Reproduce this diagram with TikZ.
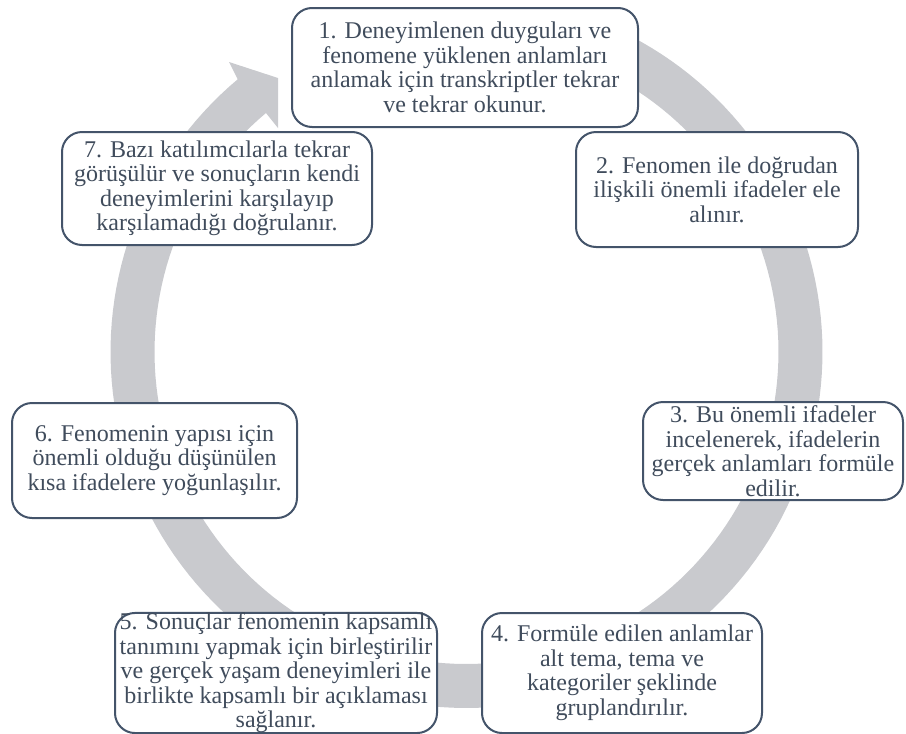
\documentclass[tikz,border=0pt]{standalone}
\usepackage{fontspec}
\setmainfont{Liberation Serif}
\definecolor{ringgray}{RGB}{201,202,206}
\definecolor{boxline}{RGB}{68,84,106}
\definecolor{boxtext}{RGB}{64,76,92}
\begin{document}
\begin{tikzpicture}[x=1pt,y=-1pt,
  stagebox/.style={draw=boxline, line width=2pt, fill=white, rounded corners=20pt,
    align=center, inner sep=0pt, text=boxtext,
    font=\fontsize{24}{24.5}\selectfont},
  ring/.style={fill=ringgray}]
\useasboundingbox (0,0) rectangle (906,734);
% centre and radii of the cycle arrow
\def\cx{466.5}
\def\cy{352}
\fill[ring]
  plot[domain=290:590, samples=160] ({\cx+356*cos(\x)},{\cy+356*sin(\x)})
  -- (229,62) -- (278,78) -- (278,128)
  -- plot[domain=590:290, samples=160] ({\cx+312*cos(\x)},{\cy+312*sin(\x)})
  -- cycle;
% the seven stages
\node[stagebox, minimum width=346, minimum height=119] (b1) at (465,67.5)
  {1. Deneyimlenen duyguları ve\\fenomene yüklenen anlamları\\anlamak için transkriptler tekrar\\ve tekrar okunur.};
\node[stagebox, minimum width=282, minimum height=115] (b2) at (717,189.5)
  {2. Fenomen ile doğrudan\\ilişkili önemli ifadeler ele\\alınır.};
\node[stagebox, minimum width=260, minimum height=98] (b3) at (773,451)
  {3. Bu önemli ifadeler\\incelenerek, ifadelerin\\gerçek anlamları formüle\\edilir.};
\node[stagebox, minimum width=280, minimum height=120] (b4) at (622,673)
  {4. Formüle edilen anlamlar\\alt tema, tema ve\\kategoriler şeklinde\\gruplandırılır.};
\node[stagebox, minimum width=322, minimum height=120] (b5) at (276,673)
  {5. Sonuçlar fenomenin kapsamlı\\tanımını yapmak için birleştirilir\\ve gerçek yaşam deneyimleri ile\\birlikte kapsamlı bir açıklaması\\sağlanır.};
\node[stagebox, minimum width=285, minimum height=115] (b6) at (154.5,460.5)
  {6. Fenomenin yapısı için\\önemli olduğu düşünülen\\kısa ifadelere yoğunlaşılır.};
\node[stagebox, minimum width=310, minimum height=113] (b7) at (217,188.5)
  {7. Bazı katılımcılarla tekrar\\görüşülür ve sonuçların kendi\\deneyimlerini karşılayıp\\karşılamadığı doğrulanır.};
\end{tikzpicture}
\end{document}
